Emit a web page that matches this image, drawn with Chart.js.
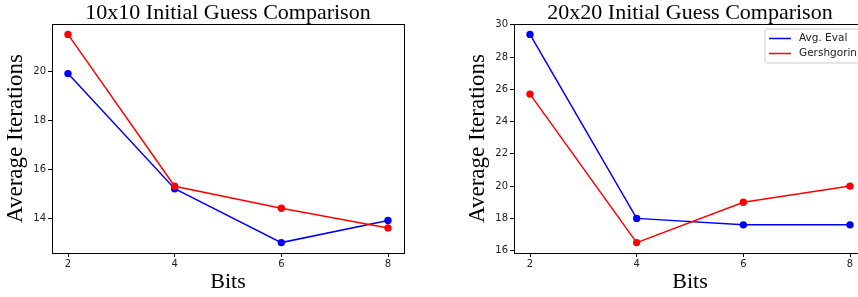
<!DOCTYPE html>
<html>
<head>
<meta charset="utf-8">
<script src="https://cdn.jsdelivr.net/npm/chart.js@4.4.1/dist/chart.umd.min.js"></script>
<style>
  html, body { margin: 0; padding: 0; width: 858px; height: 297px; overflow: hidden; background: #fff; position: relative; }
  canvas { position: absolute; top: 0; }
  #c1 { left: 0px; }
  #c2 { left: 462px; }
</style>
</head>
<body>
<canvas id="c1" width="429" height="297"></canvas>
<canvas id="c2" width="429" height="297"></canvas>
<script>
// ---- data ----
const bits = [2, 4, 6, 8];
const xTicks = [2, 4, 6, 8];
const seriesNames = ["Avg. Eval", "Gershgorin"];
const avgEval10 = [19.9, 15.2, 13.0, 13.9];
const gersh10 = [21.5, 15.3, 14.4, 13.6];
const avgEval20 = [29.4, 18.0, 17.6, 17.6];
const gersh20 = [25.7, 16.5, 19.0, 20.0];
const yTicks10 = [14, 16, 18, 20];
const yTicks20 = [16, 18, 20, 22, 24, 26, 28, 30];
const titles = ["10x10 Initial Guess Comparison", "20x20 Initial Guess Comparison"];

const SERIF = "'Liberation Serif', 'Times New Roman', serif";
const SANS = "'DejaVu Sans', sans-serif";

function pts(xs, ys) { return xs.map((x, i) => ({ x: x, y: ys[i] })); }

function paddedRange(arrs, frac) {
  const all = [].concat(...arrs);
  const mn = Math.min(...all), mx = Math.max(...all);
  const m = (mx - mn) * frac;
  return [mn - m, mx + m];
}

const framePlugin = {
  id: 'frame',
  afterDatasetsDraw(chart) {
    const { ctx, chartArea: a } = chart;
    ctx.save();
    ctx.strokeStyle = '#000';
    ctx.lineWidth = 1;
    ctx.strokeRect(Math.round(a.left) + 0.5, Math.round(a.top) + 0.5,
                   Math.round(a.right - a.left), Math.round(a.bottom - a.top));
    ctx.restore();
  }
};

const legendBoxPlugin = {
  id: 'legendBox',
  afterDraw(chart, args, opts) {
    if (!opts.show) return;
    const { ctx, chartArea: a } = chart;
    const ds = chart.data.datasets;
    ctx.save();
    const right = a.right - 4, top = a.top + 5;
    const w = 97, h = 34;
    const left = right - w;
    ctx.beginPath();
    const r = 2;
    ctx.moveTo(left + r, top);
    ctx.lineTo(right - r, top); ctx.quadraticCurveTo(right, top, right, top + r);
    ctx.lineTo(right, top + h - r); ctx.quadraticCurveTo(right, top + h, right - r, top + h);
    ctx.lineTo(left + r, top + h); ctx.quadraticCurveTo(left, top + h, left, top + h - r);
    ctx.lineTo(left, top + r); ctx.quadraticCurveTo(left, top, left + r, top);
    ctx.closePath();
    ctx.fillStyle = 'rgba(255,255,255,0.8)';
    ctx.fill();
    ctx.strokeStyle = '#cccccc';
    ctx.lineWidth = 1;
    ctx.stroke();
    ctx.font = "10.5px " + SANS;
    ctx.textBaseline = 'middle';
    ctx.textAlign = 'left';
    ds.forEach((d, i) => {
      const y = top + 9.5 + i * 15;
      ctx.strokeStyle = d.borderColor;
      ctx.lineWidth = 1.5;
      ctx.beginPath();
      ctx.moveTo(left + 4, y); ctx.lineTo(left + 26, y);
      ctx.stroke();
      ctx.fillStyle = '#222';
      ctx.fillText(d.label, left + 34, y);
    });
    ctx.restore();
  }
};

function makeChart(id, title, blue, red, yTicks, showLegend) {
  const [ymin, ymax] = paddedRange([blue, red], 0.05);
  const [xmin, xmax] = paddedRange([bits], 0.05);
  return new Chart(document.getElementById(id), {
    type: 'line',
    data: {
      datasets: [
        { label: seriesNames[0], data: pts(bits, blue), borderColor: '#0000ff', backgroundColor: '#0000ff',
          borderWidth: 1.5, pointRadius: 3.7, pointHoverRadius: 3.7, pointBorderWidth: 0, tension: 0, order: 1 },
        { label: seriesNames[1], data: pts(bits, red), borderColor: '#ff0000', backgroundColor: '#ff0000',
          borderWidth: 1.5, pointRadius: 3.7, pointHoverRadius: 3.7, pointBorderWidth: 0, tension: 0, order: 0 }
      ]
    },
    options: {
      responsive: false,
      animation: false,
      events: [],
      layout: { padding: { top: 0, right: 25, bottom: 0, left: 0 } },
      plugins: {
        legend: { display: false },
        tooltip: { enabled: false },
        title: {
          display: true, text: title, fullSize: false, color: '#000',
          font: { family: SERIF, size: 22, weight: 'normal', lineHeight: 1.0 },
          padding: { top: 2, bottom: 0 }
        },
        legendBox: { show: showLegend }
      },
      scales: {
        x: {
          type: 'linear', min: xmin, max: xmax,
          afterBuildTicks: s => { s.ticks = xTicks.map(v => ({ value: v })); },
          afterFit: s => { s.height = 44; },
          grid: { drawOnChartArea: false, drawTicks: true, tickLength: 4, color: '#000', tickColor: '#000' },
          border: { display: false },
          ticks: { color: '#222', font: { family: SANS, size: 10 }, padding: 1, maxRotation: 0, autoSkip: false },
          title: { display: true, text: 'Bits', color: '#000', font: { family: SERIF, size: 22, lineHeight: 1.2 }, padding: { top: 0, bottom: 2 } }
        },
        y: {
          type: 'linear', min: ymin, max: ymax,
          afterBuildTicks: s => { s.ticks = yTicks.map(v => ({ value: v })); },
          afterFit: s => { s.width = 52; },
          grid: { drawOnChartArea: false, drawTicks: true, tickLength: 4, color: '#000', tickColor: '#000' },
          border: { display: false },
          ticks: { color: '#222', font: { family: SANS, size: 10 }, padding: 2, autoSkip: false },
          title: { display: true, text: 'Average Iterations', color: '#000', font: { family: SERIF, size: 23, lineHeight: 1.2 }, padding: { top: 2, bottom: 0 } }
        }
      }
    },
    plugins: [framePlugin, legendBoxPlugin]
  });
}

makeChart('c1', titles[0], avgEval10, gersh10, yTicks10, false);
makeChart('c2', titles[1], avgEval20, gersh20, yTicks20, true);
</script>
</body>
</html>
